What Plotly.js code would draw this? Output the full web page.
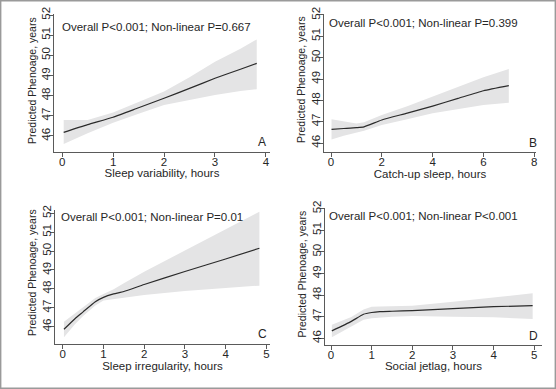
<!DOCTYPE html>
<html>
<head>
<meta charset="utf-8">
<script src="https://cdn.plot.ly/plotly-3.0.1.min.js"></script>
<style>
html,body{margin:0;padding:0;background:#fff;}
#chart{width:556px;height:389px;}
</style>
</head>
<body>
<div id="chart"></div>
<script>
// ---- Data ----
// Panel A: Sleep variability
const aX   = [0.03, 0.5, 1.0, 1.5, 2.0, 2.5, 3.0, 3.5, 3.82];
const aFit = [46.18, 46.56, 46.93, 47.40, 47.87, 48.36, 48.86, 49.31, 49.60];
const aLo  = [45.60, 46.13, 46.66, 47.10, 47.54, 47.80, 48.03, 48.23, 48.32];
const aHi  = [46.79, 46.79, 47.16, 47.68, 48.20, 48.91, 49.68, 50.33, 50.79];
// Panel B: Catch-up sleep
const bX   = [0.02, 0.5, 1.0, 1.3, 2.0, 3.0, 4.0, 5.0, 6.0, 7.0];
const bFit = [46.64, 46.68, 46.72, 46.76, 47.08, 47.40, 47.73, 48.09, 48.45, 48.69];
const bLo  = [46.17, 46.34, 46.50, 46.58, 46.84, 47.12, 47.39, 47.60, 47.78, 47.89];
const bHi  = [47.11, 47.00, 46.92, 46.97, 47.31, 47.72, 48.17, 48.62, 49.08, 49.47];
// Panel C: Sleep irregularity
const cX   = [0.03, 0.3, 0.5, 0.8, 1.0, 1.25, 1.5, 2.0, 3.0, 4.0, 4.83];
const cFit = [45.86, 46.42, 46.78, 47.32, 47.55, 47.73, 47.86, 48.23, 48.92, 49.58, 50.15];
const cLo  = [45.44, 46.12, 46.56, 47.12, 47.38, 47.47, 47.53, 47.68, 47.89, 48.05, 48.17];
const cHi  = [46.26, 46.70, 47.00, 47.52, 47.73, 47.98, 48.30, 48.90, 50.03, 51.17, 52.08];
// Panel D: Social jetlag
const dX   = [0.02, 0.5, 0.8, 1.0, 1.2, 1.5, 2.0, 3.0, 4.0, 4.96];
const dFit = [46.34, 46.78, 47.11, 47.19, 47.23, 47.25, 47.28, 47.37, 47.46, 47.51];
const dLo  = [46.05, 46.55, 46.86, 46.93, 46.96, 46.99, 47.03, 47.00, 46.97, 46.89];
const dHi  = [46.62, 46.98, 47.33, 47.46, 47.47, 47.48, 47.50, 47.69, 47.90, 48.08];

const yTicks = [46, 47, 48, 49, 50, 51, 52];
const aXTicks = [0, 1, 2, 3, 4];
const bXTicks = [0, 2, 4, 6, 8];
const cXTicks = [0, 1, 2, 3, 4, 5];
const dXTicks = [0, 1, 2, 3, 4, 5];

const xTitles = ["Sleep variability, hours", "Catch-up sleep, hours", "Sleep irregularity, hours", "Social jetlag, hours"];
const yTitle = "Predicted Phenoage, years";
const pTexts = ["Overall P&lt;0.001; Non-linear P=0.667", "Overall P&lt;0.001; Non-linear P=0.399",
                "Overall P&lt;0.001; Non-linear P=0.01", "Overall P&lt;0.001; Non-linear P&lt;0.001"];
const letters = ["A", "B", "C", "D"];

// ---- Build ----
const FONT = "Liberation Sans, Arial, sans-serif";
const TXT = "#262626";
const AX = "#5a5a5a";
const panels = [
  {x: aX, fit: aFit, lo: aLo, hi: aHi, ticks: aXTicks},
  {x: bX, fit: bFit, lo: bLo, hi: bHi, ticks: bXTicks},
  {x: cX, fit: cFit, lo: cLo, hi: cHi, ticks: cXTicks},
  {x: dX, fit: dFit, lo: dLo, hi: dHi, ticks: dXTicks}
];
const W = 556, H = 389;
const geom = [
  {l: 54, r: 270, t: 14.0, b: 151.7, xr: [-0.16, 4.08], yr: [45.22, 52.05], ann: [-0.04, 51.42], let: [3.93, 45.70], yt: [32, 81]},
  {l: 324, r: 536, t: 13.9, b: 152.0, xr: [-0.276, 8.07], yr: [45.58, 52.05], ann: [-0.15, 51.61], let: [7.94, 45.99], yt: [301, 80]},
  {l: 55, r: 270, t: 209.5, b: 344.0, xr: [-0.19, 5.09], yr: [45.08, 52.2], ann: [-0.1, 51.82], let: [4.90, 45.60], yt: [32, 273]},
  {l: 325, r: 542, t: 207.6, b: 344.7, xr: [-0.148, 5.19], yr: [45.70, 52.05], ann: [-0.09, 51.68], let: [4.97, 46.12], yt: [301, 274.5]}
];

const traces = [];
const layout = {
  width: W, height: H,
  margin: {l: 0, r: 0, t: 0, b: 0},
  paper_bgcolor: "#fff", plot_bgcolor: "#fff",
  showlegend: false,
  font: {family: FONT, size: 11.5, color: TXT},
  annotations: [],
  shapes: [{type: "rect", xref: "paper", yref: "paper", x0: 0.7/W, x1: 1 - 0.7/W, y0: 0.7/H, y1: 1 - 0.7/H,
            line: {color: "#9a9a9a", width: 1.4}, fillcolor: "rgba(0,0,0,0)"}]
};

panels.forEach((p, i) => {
  const n = i + 1;
  const xa = n === 1 ? "x" : "x" + n;
  const ya = n === 1 ? "y" : "y" + n;
  traces.push({
    x: p.x.concat(p.x.slice().reverse()),
    y: p.hi.concat(p.lo.slice().reverse()),
    xaxis: xa, yaxis: ya, type: "scatter", mode: "lines",
    fill: "toself", fillcolor: "#e4e4e5", line: {width: 0, color: "rgba(0,0,0,0)"},
    hoverinfo: "skip"
  });
  traces.push({
    x: p.x, y: p.fit, xaxis: xa, yaxis: ya, type: "scatter", mode: "lines",
    line: {color: "#2b2b2b", width: 1.2, shape: "spline", smoothing: 0.5}
  });
  const g = geom[i];
  const xk = n === 1 ? "xaxis" : "xaxis" + n;
  const yk = n === 1 ? "yaxis" : "yaxis" + n;
  layout[xk] = {
    domain: [g.l / W, g.r / W], anchor: ya, range: g.xr,
    tickmode: "array", tickvals: p.ticks, ticktext: p.ticks.map(String),
    showgrid: false, zeroline: false, showline: true, linecolor: AX, linewidth: 1,
    ticks: "outside", ticklen: 4, tickcolor: AX, tickwidth: 1,
    ticklabelstandoff: -5,
    tickfont: {family: FONT, size: 11.5, color: TXT},
    title: {text: xTitles[i], font: {family: FONT, size: 11.5, color: TXT}, standoff: 0}
  };
  layout[yk] = {
    domain: [1 - g.b / H, 1 - g.t / H], anchor: xa, range: g.yr,
    tickmode: "array", tickvals: yTicks, ticktext: yTicks.map(String),
    tickangle: -90,
    showgrid: false, zeroline: false, showline: true, linecolor: AX, linewidth: 1,
    ticks: "outside", ticklen: 4, tickcolor: AX, tickwidth: 1,
    ticklabelstandoff: -6,
    tickfont: {family: FONT, size: 11.5, color: TXT}
  };
  layout.annotations.push({
    xref: "paper", yref: "paper", x: g.yt[0] / W, y: 1 - g.yt[1] / H, text: yTitle, textangle: -90,
    xanchor: "center", yanchor: "middle", showarrow: false,
    font: {family: FONT, size: 10.5, color: TXT}
  });
  layout.annotations.push({
    xref: xa, yref: ya, x: g.ann[0], y: g.ann[1], text: pTexts[i],
    xanchor: "left", yanchor: "middle", showarrow: false,
    font: {family: FONT, size: 11.5, color: TXT}
  });
  layout.annotations.push({
    xref: xa, yref: ya, x: g.let[0], y: g.let[1], text: letters[i],
    xanchor: "center", yanchor: "middle", showarrow: false,
    font: {family: FONT, size: 12, color: TXT}
  });
});

Plotly.newPlot("chart", traces, layout, {staticPlot: true, displayModeBar: false});
</script>
</body>
</html>
